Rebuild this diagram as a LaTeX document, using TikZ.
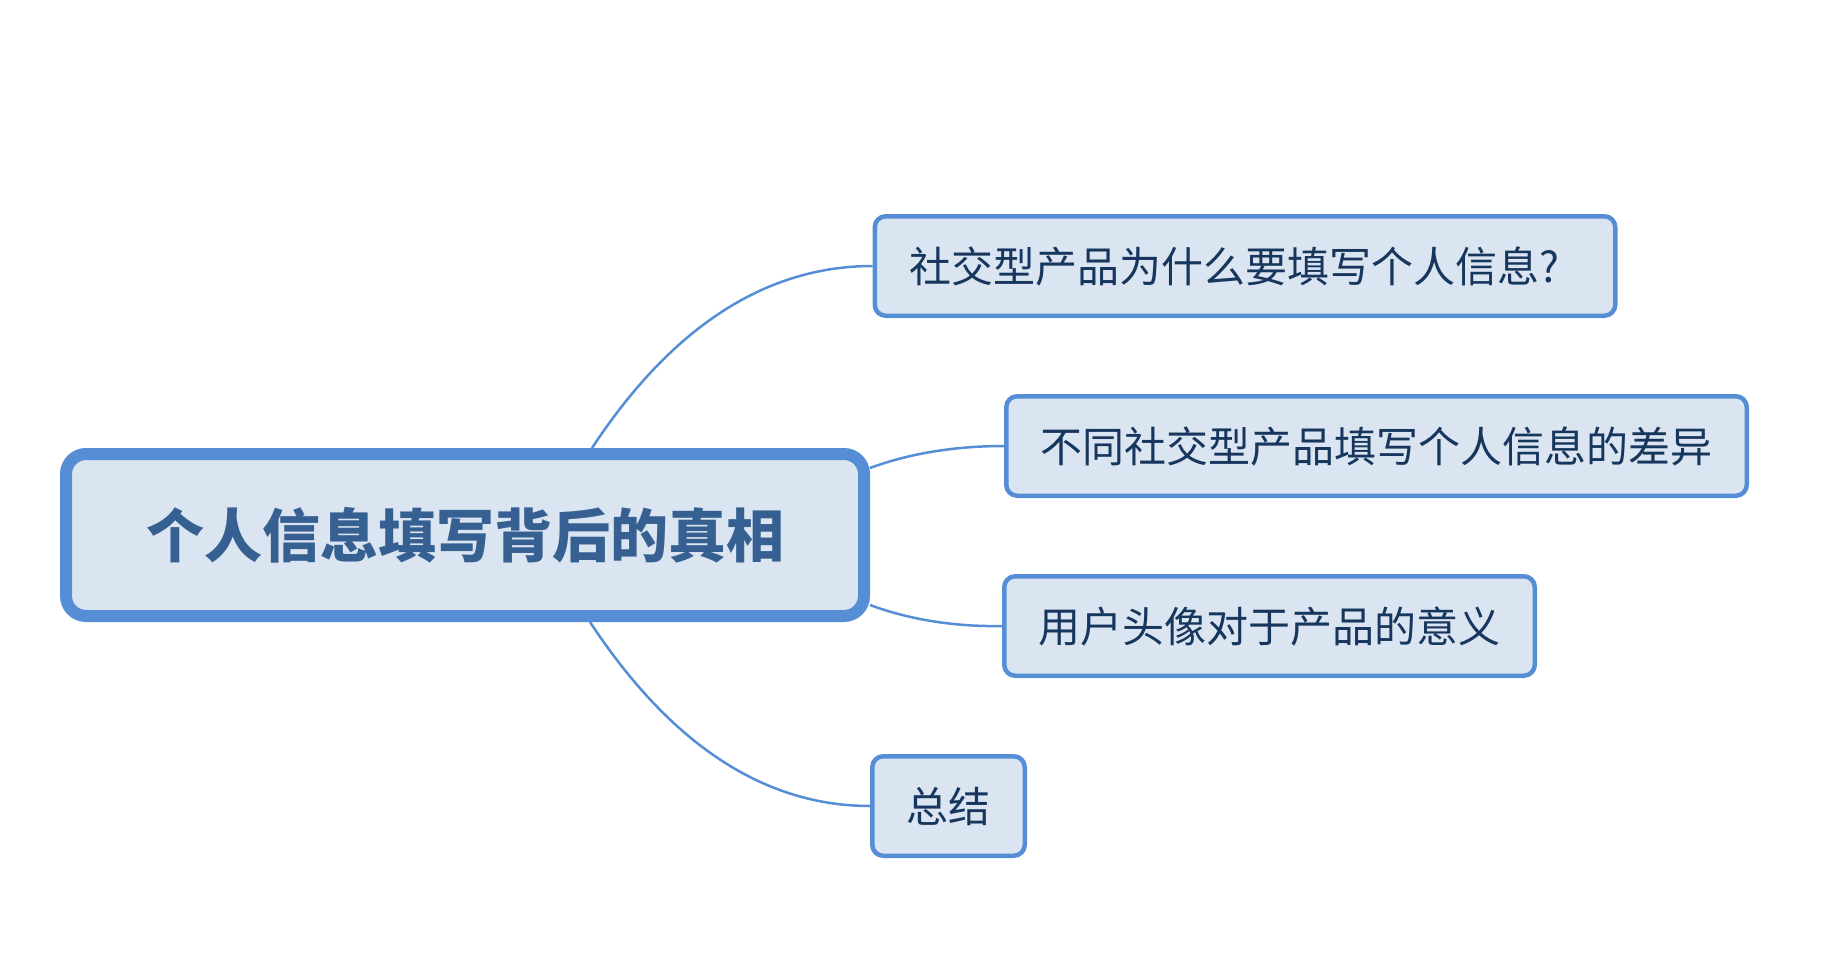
\documentclass[tikz,border=0pt]{standalone}
\usepackage{fontspec}
\setmainfont{Noto Sans CJK SC}
\usetikzlibrary{backgrounds}
\definecolor{edgeblue}{HTML}{558ED5}
\definecolor{boxfill}{HTML}{DBE5F1}
\definecolor{maintext}{HTML}{366092}
\definecolor{subtext}{HTML}{17365D}
\begin{document}
\begin{tikzpicture}[x=1pt,y=-1pt,
  topic/.style={draw=edgeblue, fill=boxfill, line width=4.5pt, rounded corners=11pt,
    inner xsep=34.25pt, inner ysep=0pt, minimum height=99.5pt, text=subtext,
    font=\fontsize{42pt}{50pt}\selectfont},
  central/.style={draw=edgeblue, fill=boxfill, line width=12pt, rounded corners=20pt,
    minimum width=798pt, minimum height=162pt, inner sep=0pt, text=maintext,
    font=\fontsize{58pt}{68pt}\selectfont\bfseries},
  link/.style={draw=edgeblue, line width=2.5pt}]
\useasboundingbox (0,0) rectangle (1837,955);
\node[central] (main) at (465,535) {个人信息填写背后的真相};
\node[topic, text width=672pt, align=left] (b1) at (1245,266) {社交型产品为什么要填写个人信息?};
\node[topic] (b2) at (1376.5,446) {不同社交型产品填写个人信息的差异};
\node[topic] (b3) at (1269.5,626) {用户头像对于产品的意义};
\node[topic] (b4) at (948.5,806) {总结};
\begin{pgfonlayer}{background}
\draw[link] ([xshift=127pt]main.north) .. controls (650,360) and (740,266) .. (b1.west);
\draw[link] ([yshift=67pt]main.east) .. controls (905,455) and (950,446) .. (b2.west);
\draw[link] ([yshift=-70pt]main.east) .. controls (905,618) and (950,627) .. (b3.west);
\draw[link] ([xshift=125pt]main.south) .. controls (648,710) and (738,806) .. (b4.west);
\end{pgfonlayer}
\end{tikzpicture}
\end{document}
